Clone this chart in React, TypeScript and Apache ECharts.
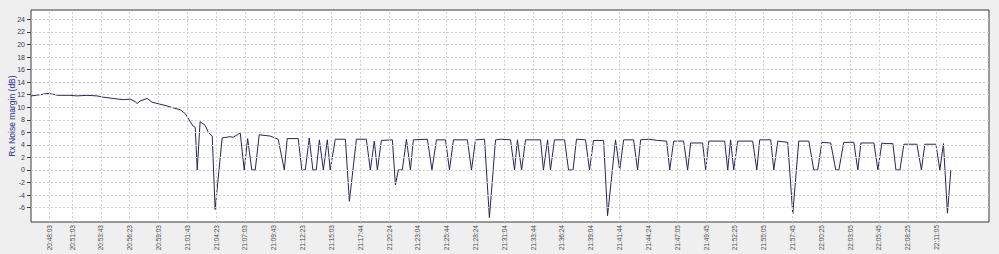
import React, { useEffect, useRef } from "react";
import * as echarts from "echarts";

// elapsed seconds of each reading (from the left edge of the time window)
const sampleSec = [
  0, 50, 94, 116, 150, 216, 255, 310, 366, 399, 454, 510, 548, 576, 587, 604, 643, 670, 698, 753,
  787, 825, 853, 881, 897, 909, 920, 936, 964, 981, 1003, 1019, 1058, 1102, 1119, 1158, 1180, 1199,
  1222, 1241, 1263, 1324, 1368, 1402, 1418, 1479, 1499, 1518, 1540, 1560, 1579, 1596, 1618, 1640,
  1656, 1684, 1740, 1762, 1801, 1856, 1878, 1900, 1917, 1939, 2000, 2017, 2033, 2055, 2078, 2100,
  2116, 2194, 2219, 2244, 2294, 2316, 2338, 2415, 2438, 2460, 2510, 2537, 2571, 2598, 2654, 2676,
  2692, 2715, 2737, 2820, 2836, 2859, 2875, 2897, 2953, 2975, 3000, 3019, 3069, 3091, 3113, 3169,
  3191, 3235, 3258, 3280, 3335, 3357, 3374, 3418, 3468, 3518, 3535, 3557, 3612, 3634, 3651, 3717,
  3734, 3751, 3839, 3856, 3872, 3889, 3911, 3994, 4017, 4033, 4094, 4111, 4133, 4188, 4216, 4249,
  4305, 4332, 4354, 4377, 4426, 4454, 4471, 4498, 4554, 4576, 4593, 4665, 4687, 4709, 4726, 4770,
  4787, 4809, 4831, 4903, 4928, 4947, 5008, 5030, 5050, 5072, 5091,
];

// Rx noise margin (dB) at each reading
const marginDb = [
  11.8, 12.0, 12.2, 12.1, 11.9, 11.9, 11.8, 11.9, 11.8, 11.6, 11.4, 11.2, 11.3, 10.9, 10.6, 11.0, 11.4, 10.8, 10.6, 10.2,
  9.9, 9.6, 9.0, 7.7, 7.0, 6.8, 0, 7.7, 7.1, 6.0, 5.4, -6.3, 5.1, 5.3, 5.2, 5.9, 0, 5.0,
  0, 0, 5.6, 5.4, 4.9, 0, 5.0, 5.0, 0, 0, 5.1, 0, 0, 4.8, 0, 4.8,
  0, 4.9, 4.9, -5.0, 4.9, 4.9, 0, 4.6, 0, 4.7, 4.8, -2.4, 0, 0, 4.9, 0,
  4.8, 4.9, 0, 4.8, 4.8, 0, 4.8, 4.8, 0, 4.8, 4.9, -7.6, 4.8, 4.9, 4.8, 0,
  4.8, 0, 4.8, 4.8, 0, 4.8, 0, 4.8, 4.8, 0, 0, 4.9, 4.8, 0, 4.7, 4.7,
  -7.3, 4.8, 0, 4.8, 4.8, 0, 4.8, 4.9, 4.7, 4.6, 0, 4.6, 4.6, 0, 4.3, 4.3,
  0, 4.6, 4.6, 0, 4.8, 0, 4.6, 4.6, 0, 4.8, 4.8, 0, 4.6, 4.4, -7.0, 4.6,
  4.6, 0, 0, 4.4, 4.3, 0, 0, 4.4, 4.4, 0, 4.3, 4.3, 0, 4.3, 4.2, 4.2,
  0, 0, 4.1, 4.1, 0, 4.1, 4.1, 0, 4.2, -6.9, 0,
];

// time axis labels and where they sit on the elapsed-seconds scale
const xTickSec = [
  100, 227, 386.5, 546, 705.5, 865, 1024.5, 1184, 1343.5, 1503, 1662.5, 1822, 1981.5, 2141, 2300.5,
  2460, 2619.5, 2779, 2938.5, 3098, 3257.5, 3417, 3576.5, 3736, 3895.5, 4055, 4214.5, 4374, 4533.5,
  4693, 4852.5, 5012,
];
const xTickLabels = [
  "20:48:03", "20:51:03", "20:53:43", "20:56:23", "20:59:03", "21:01:43", "21:04:23", "21:07:03",
  "21:09:43", "21:12:23", "21:15:03", "21:17:44", "21:20:24", "21:23:04", "21:25:44", "21:28:24",
  "21:31:04", "21:33:44", "21:36:24", "21:39:04", "21:41:44", "21:44:24", "21:47:05", "21:49:45",
  "21:52:25", "21:55:05", "21:57:45", "22:00:25", "22:03:05", "22:05:45", "22:08:25", "22:11:05",
];
const xMaxSec = 5302;

const yTicks = [-6, -4, -2, 0, 2, 4, 6, 8, 10, 12, 14, 16, 18, 20, 22, 24];
const yMin = -8.3;
const yMax = 25.5;
const yTitle = "Rx Noise margin (dB)";

const FONT = "'Liberation Sans', Arial, sans-serif";

export default function App() {
  const ref = useRef<HTMLDivElement>(null);

  useEffect(() => {
    document.body.style.margin = "0";
    const chart = echarts.init(ref.current!, null, { renderer: "svg" });
    const data = sampleSec.map((s, i) => [s, marginDb[i]]);
    const gridLine = { color: "#d0d0d0", width: 1, type: [2, 2] as number[] };
    chart.setOption({
      animation: false,
      backgroundColor: "#efefef",
      grid: {
        left: 31,
        top: 10,
        right: 10,
        bottom: 32,
        containLabel: false,
        outerBoundsMode: "none",
        show: true,
        backgroundColor: "#ffffff",
        borderColor: "#3a3a3a",
        borderWidth: 1,
      },
      xAxis: {
        type: "value",
        min: 0,
        max: xMaxSec,
        axisLine: { show: false },
        axisTick: { show: false, customValues: xTickSec },
        axisLabel: {
          customValues: xTickSec,
          rotate: 90,
          margin: 3,
          fontSize: 6.5,
          fontFamily: FONT,
          color: "#4a4a4a",
          formatter: (v: number) => {
            const i = xTickSec.indexOf(v);
            return i >= 0 ? xTickLabels[i] : "";
          },
        },
        splitLine: { show: false },
      },
      yAxis: {
        type: "value",
        min: yMin,
        max: yMax,
        name: yTitle,
        nameLocation: "middle",
        nameGap: 15,
        nameMoveOverlap: false,
        nameTextStyle: { color: "#2b2b8c", fontSize: 8.5, fontFamily: FONT },
        axisLine: { show: false },
        axisTick: {
          show: true,
          customValues: yTicks,
          length: 4,
          lineStyle: { color: "#3a3a3a" },
        },
        axisLabel: {
          customValues: yTicks,
          margin: 6,
          fontSize: 7,
          fontFamily: FONT,
          color: "#3a3a5a",
        },
        splitLine: { show: false },
      },
      series: [
        {
          type: "line",
          z: 1,
          data: [],
          silent: true,
          markLine: {
            silent: true,
            symbol: ["none", "none"],
            label: { show: false },
            emphasis: { disabled: true },
            lineStyle: gridLine,
            data: [
              ...xTickSec.map((v) => ({ xAxis: v })),
              ...yTicks.map((v) => ({ yAxis: v })),
            ],
          },
        },
        {
          type: "line",
          z: 2,
          data,
          symbol: "none",
          showSymbol: false,
          lineStyle: { color: "#25255f", width: 1 },
        },
      ],
    });
    return () => chart.dispose();
  }, []);

  return <div ref={ref} style={{ width: 999, height: 254 }} />;
}
